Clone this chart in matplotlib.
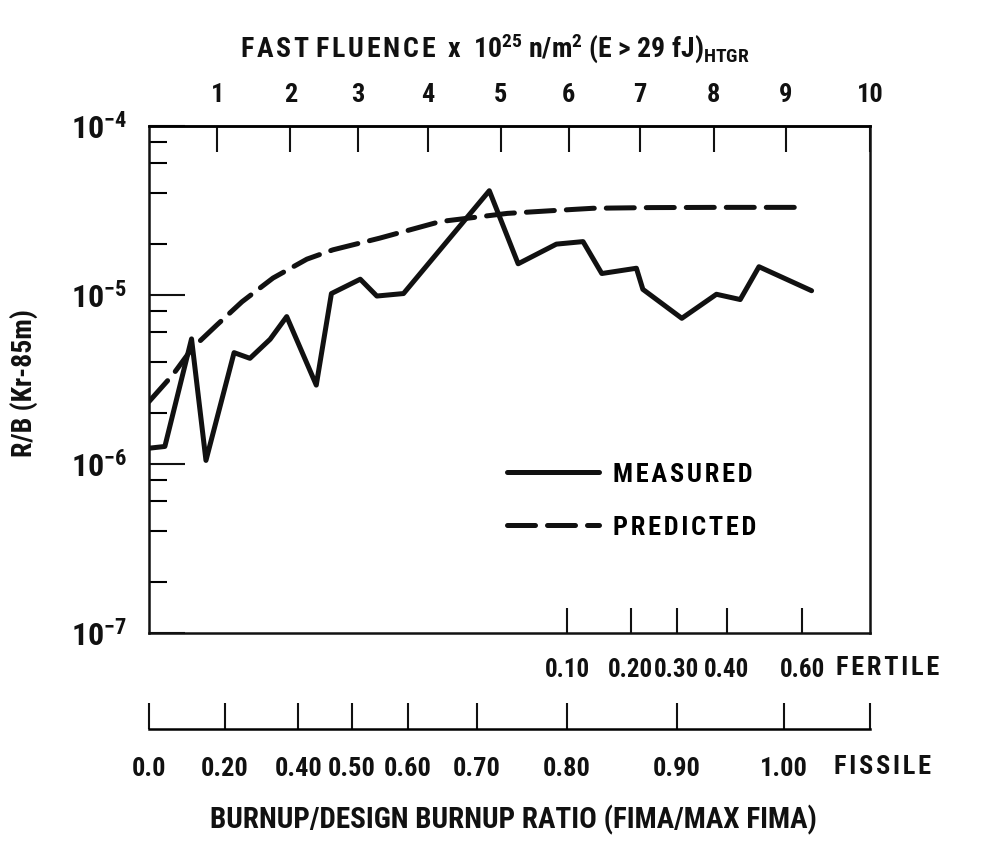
import matplotlib
matplotlib.use("Agg")
import matplotlib.pyplot as plt
from matplotlib import font_manager
from matplotlib.ticker import LogLocator, NullFormatter

# pick a condensed sans if one is installed
fonts = [(f.name, f.stretch) for f in font_manager.fontManager.ttflist]
names = {n for n, s in fonts}
if 'Liberation Sans Narrow' in names:
    family, stretch = 'Liberation Sans Narrow', 'normal'
elif 'Roboto Condensed' in names:
    family, stretch = 'Roboto Condensed', 'normal'
elif ('DejaVu Sans', 'condensed') in fonts:
    family, stretch = 'DejaVu Sans', 'condensed'
else:
    family, stretch = 'Liberation Sans', 'normal'

plt.rcParams['font.family'] = [family, 'DejaVu Sans']
plt.rcParams['font.stretch'] = stretch
plt.rcParams['font.weight'] = 'bold'
plt.rcParams['mathtext.fontset'] = 'custom'
plt.rcParams['mathtext.rm'] = f'{family}:bold:stretch={stretch}'
plt.rcParams['mathtext.it'] = f'{family}:italic:bold:stretch={stretch}'
plt.rcParams['mathtext.bf'] = f'{family}:bold:stretch={stretch}'
plt.rcParams['mathtext.default'] = 'rm'

# x runs along the plot width in fast-fluence units (0..10)
measured_x = [0.0, 0.22, 0.59, 0.79, 1.18, 1.40, 1.68, 1.91, 2.32, 2.53, 2.93, 3.16,
              3.53, 4.72, 5.12, 5.65, 6.02, 6.28, 6.76, 6.85, 7.39, 7.87, 8.20, 8.46, 9.19]
measured_rb = [1.24e-6, 1.27e-6, 5.5e-6, 1.05e-6, 4.56e-6, 4.22e-6, 5.47e-6, 7.45e-6,
               2.93e-6, 1.02e-5, 1.24e-5, 9.86e-6, 1.02e-5, 4.14e-5, 1.53e-5, 2.0e-5,
               2.07e-5, 1.34e-5, 1.44e-5, 1.08e-5, 7.28e-6, 1.01e-5, 9.4e-6, 1.47e-5, 1.06e-5]

predicted_x = [0.0, 0.33, 0.60, 0.94, 1.29, 1.72, 2.19, 2.55, 3.20, 4.04, 4.97, 5.56,
               6.16, 6.95, 7.92, 9.08]
predicted_rb = [2.34e-6, 3.37e-6, 4.84e-6, 6.64e-6, 9.12e-6, 1.26e-5, 1.63e-5, 1.85e-5,
                2.17e-5, 2.72e-5, 3.04e-5, 3.15e-5, 3.26e-5, 3.29e-5, 3.30e-5, 3.30e-5]

fluence_pos = [0.95, 1.96, 2.90, 3.87, 4.88, 5.82, 6.81, 7.83, 8.83, 10.0]
fluence_labels = ['1', '2', '3', '4', '5', '6', '7', '8', '9', '10']

fertile_pos = [5.80, 6.68, 7.32, 8.01, 9.06]
fertile_labels = ['0.10', '0.20', '0.30', '0.40', '0.60']

fissile_pos = [0.0, 1.055, 2.07, 2.81, 3.59, 4.55, 5.80, 7.32, 8.81, 10.0]
fissile_labels = ['0.0', '0.20', '0.40', '0.50', '0.60', '0.70', '0.80', '0.90', '1.00', '']

series_names = ['MEASURED', 'PREDICTED']


def spaced(word):
    # the original lettering is widely tracked
    return '\u200a'.join(word)


ink = '#111111'
fig = plt.figure(figsize=(9.81, 8.41), dpi=100)
ax = fig.add_axes([149 / 981, 1 - 633 / 841, 721 / 981, 507 / 841])

ax.plot(measured_x, measured_rb, color=ink, lw=3.6, solid_joinstyle='round',
        solid_capstyle='round', label=spaced(series_names[0]))
ax.plot(predicted_x, predicted_rb, color=ink, lw=3.6, dashes=(5.6, 2.4),
        dash_capstyle='round', label=spaced(series_names[1]))

ax.set_yscale('log')
ax.set_ylim(1e-7, 1e-4)
ax.set_xlim(0, 10)

for s in ax.spines.values():
    s.set_linewidth(1.8)
    s.set_color(ink)

ax.yaxis.set_major_locator(LogLocator(base=10, numticks=10))
ax.yaxis.set_minor_locator(LogLocator(base=10, subs=[2, 4, 6, 8], numticks=10))
ax.yaxis.set_minor_formatter(NullFormatter())
ax.tick_params(axis='y', which='major', direction='in', length=26, width=1.5,
               pad=16, labelsize=23, colors=ink, right=False)
ax.tick_params(axis='y', which='minor', direction='in', length=13, width=1.5,
               right=False)

# fertile scale on the bottom frame
ax.set_xticks(fertile_pos)
ax.set_xticklabels(fertile_labels)
ax.tick_params(axis='x', direction='in', length=18, width=1.5, pad=18,
               labelsize=18, colors=ink, top=False)
ax.text(1.024, -0.069, spaced('FERTILE'), transform=ax.transAxes, ha='center',
        va='center', fontsize=19, color=ink)

# fast fluence scale on top
ax_top = ax.twiny()
ax_top.set_xlim(0, 10)
ax_top.set_xticks(fluence_pos)
ax_top.set_xticklabels(fluence_labels)
ax_top.tick_params(axis='x', direction='in', length=18.7, width=1.5, pad=14,
                   labelsize=19, colors=ink)
for k in ['left', 'right', 'bottom']:
    ax_top.spines[k].set_visible(False)
ax_top.spines['top'].set_linewidth(1.8)

# fissile scale below the plot
ax_f = ax.twiny()
ax_f.set_xlim(0, 10)
ax_f.xaxis.set_ticks_position('bottom')
ax_f.xaxis.set_label_position('bottom')
ax_f.spines['bottom'].set_position(('outward', 69))
for k in ['left', 'right', 'top']:
    ax_f.spines[k].set_visible(False)
ax_f.spines['bottom'].set_linewidth(1.8)
ax_f.set_xticks(fissile_pos)
ax_f.set_xticklabels(fissile_labels)
ax_f.tick_params(axis='x', direction='in', length=18.7, width=1.5, pad=20,
                 labelsize=19, colors=ink)
ax_f.text(1.018, -0.264, spaced('FISSILE'), transform=ax.transAxes, ha='center',
          va='center', fontsize=19, color=ink)

leg = ax.legend(loc='center left', bbox_to_anchor=(0.4965, 0.260), frameon=False,
                fontsize=19, handlelength=3.5, handletextpad=0.5, labelspacing=1.1,
                borderpad=0, borderaxespad=0)

fig.text(495 / 981, 1 - 48 / 841,
         spaced('FAST') + ' ' + spaced('FLUENCE')
         + r'  x  10$^{25}$ n/m$^{2}$ (E > 29 fJ)${}_{\mathrm{HTGR}}$',
         ha='center', va='center', fontsize=20, color=ink)
fig.text(24 / 981, 1 - 383 / 841, 'R/B (Kr-85m)', rotation=90, ha='center',
         va='center', fontsize=20, color=ink)
fig.text(513 / 981, 1 - 820 / 841, 'BURNUP/DESIGN BURNUP RATIO (FIMA/MAX FIMA)',
         ha='center', va='center', fontsize=21, color=ink)

fig.savefig('out.png', dpi=100)
